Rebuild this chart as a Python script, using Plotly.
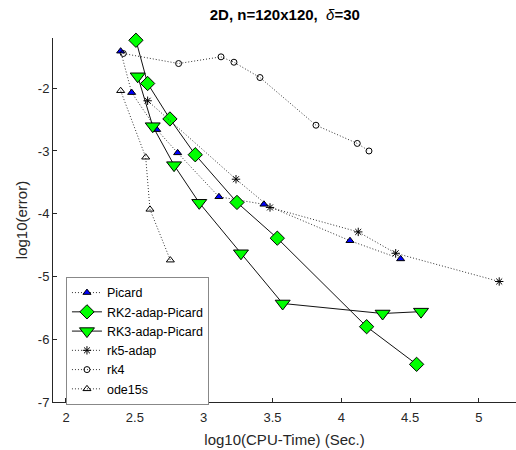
import plotly.graph_objects as go

# ---- data ----
picard_x = [2.397, 2.477, 2.659, 2.811, 3.111, 3.438, 4.063, 4.431]
picard_y = [-1.41, -2.07, -2.66, -3.03, -3.73, -3.85, -4.43, -4.72]

rk2_x = [2.508, 2.593, 2.755, 2.939, 3.242, 3.535, 4.184, 4.547]
rk2_y = [-1.236, -1.925, -2.49, -3.06, -3.82, -4.39, -5.80, -6.40]

rk3_x = [2.521, 2.630, 2.785, 2.968, 3.271, 3.574, 4.300, 4.579]
rk3_y = [-1.81, -2.605, -3.226, -3.826, -4.63, -5.43, -5.59, -5.56]

rk5_x = [2.593, 3.235, 3.482, 4.123, 4.395, 5.147]
rk5_y = [-2.20, -3.45, -3.90, -4.29, -4.63, -5.08]

rk4_x = [2.416, 2.818, 3.126, 3.220, 3.409, 3.816, 4.116, 4.201]
rk4_y = [-1.447, -1.607, -1.50, -1.586, -1.83, -2.59, -2.88, -3.00]

ode_x = [2.397, 2.579, 2.610, 2.758]
ode_y = [-2.04, -3.10, -3.93, -4.74]

x_ticks = [2, 2.5, 3, 3.5, 4, 4.5, 5]
x_tick_text = ["2", "2.5", "3", "3.5", "4", "4.5", "5"]
y_ticks = [-7, -6, -5, -4, -3, -2]
y_tick_text = ["-7", "-6", "-5", "-4", "-3", "-2"]

title_text = "<b>2D, n=120x120,  </b><i>δ</i><b>=30</b>"

FONT = "Liberation Sans, Arial, sans-serif"
DOT = dict(color="#333333", width=1, dash="1px,2px")
SOLID = dict(color="#111111", width=1)

fig = go.Figure()
fig.add_trace(go.Scatter(x=picard_x, y=picard_y, name="Picard", mode="lines+markers",
                         line=DOT, cliponaxis=False,
                         marker=dict(symbol="triangle-up", size=7, color="#0000ff",
                                     line=dict(color="black", width=1))))
fig.add_trace(go.Scatter(x=rk2_x, y=rk2_y, name="RK2-adap-Picard", mode="lines+markers",
                         line=SOLID, cliponaxis=False,
                         marker=dict(symbol="diamond", size=11, color="#00ff00",
                                     line=dict(color="black", width=1))))
fig.add_trace(go.Scatter(x=rk3_x, y=rk3_y, name="RK3-adap-Picard", mode="lines+markers",
                         line=SOLID, cliponaxis=False,
                         marker=dict(symbol="triangle-down", size=13, color="#00ff00",
                                     line=dict(color="black", width=1))))
fig.add_trace(go.Scatter(x=rk5_x, y=rk5_y, name="rk5-adap", mode="lines+markers",
                         line=DOT, cliponaxis=False,
                         marker=dict(symbol="asterisk-open", size=7, color="black",
                                     line=dict(color="black", width=1))))
fig.add_trace(go.Scatter(x=rk4_x, y=rk4_y, name="rk4", mode="lines+markers",
                         line=DOT, cliponaxis=False,
                         marker=dict(symbol="circle-open", size=6, color="black",
                                     line=dict(color="black", width=1))))
fig.add_trace(go.Scatter(x=ode_x, y=ode_y, name="ode15s", mode="lines+markers",
                         line=DOT, cliponaxis=False,
                         marker=dict(symbol="triangle-up-open", size=7, color="black",
                                     line=dict(color="black", width=1))))

axis_common = dict(showgrid=False, zeroline=False, showline=True, linecolor="#262626",
                   linewidth=1, ticks="inside", ticklen=4, tickcolor="#262626",
                   tickfont=dict(family=FONT, size=13, color="#262626"),
                   automargin=False, mirror=False)

fig.update_layout(
    width=516, height=450,
    margin=dict(l=53, r=0, t=38, b=48),
    plot_bgcolor="white", paper_bgcolor="white",
    font=dict(family=FONT, size=12, color="#262626"),
    title=dict(text=title_text, x=0.552, xanchor="center", y=0.967, yanchor="middle",
               font=dict(family=FONT, size=15, color="black")),
    xaxis=dict(range=[1.9056, 5.269], tickvals=x_ticks, ticktext=x_tick_text,
               ticklabelstandoff=3,
               title=dict(text="log10(CPU-Time) (Sec.)", standoff=10,
                          font=dict(family=FONT, size=15, color="#262626")),
               **axis_common),
    yaxis=dict(range=[-7, -1.2], tickvals=y_ticks, ticktext=y_tick_text,
               title=dict(text="log10(error)", standoff=6,
                          font=dict(family=FONT, size=15, color="#262626")),
               **axis_common),
    legend=dict(x=0.028, y=0.3435, xanchor="left", yanchor="top",
                bgcolor="white", bordercolor="#888888", borderwidth=1,
                font=dict(family=FONT, size=12.5, color="black"),
                tracegroupgap=0, itemsizing="trace"),
    showlegend=True,
)

fig.write_html("out.html")
